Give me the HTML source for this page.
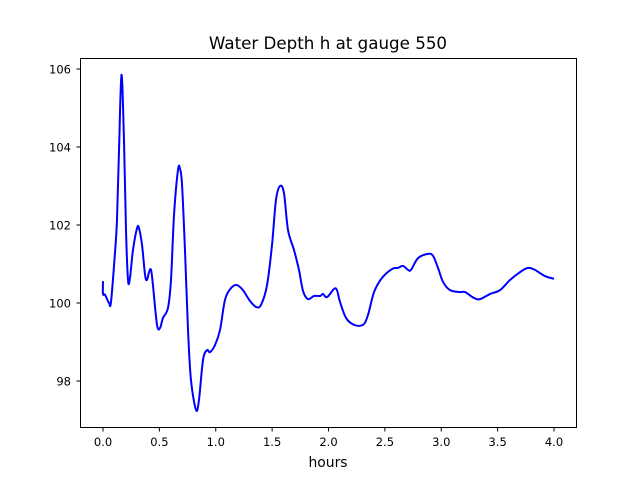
<!DOCTYPE html>
<html><head><meta charset="utf-8"><style>
body{margin:0;background:#fff}
svg text{font-family:"DejaVu Sans","Liberation Sans",sans-serif;fill:#000}
</style></head><body>
<svg id="chart" width="640" height="480">
<rect width="640" height="480" fill="#fff"/>
<text x="328" y="49" font-size="16.7" text-anchor="middle">Water Depth h at gauge 550</text>
<g id="axes"></g>
<path id="line" fill="none" stroke="#0000ff" stroke-width="2" stroke-linejoin="round"/>
<rect x="80.5" y="58.5" width="496" height="369" fill="none" stroke="#000" stroke-width="1"/>
<text x="328" y="467" font-size="13.9" text-anchor="middle">hours</text>
</svg>
<script>
const hours=[0,0,0.018,0.053,0.071,0.106,0.124,0.142,0.164,0.186,0.204,0.222,0.239,0.266,0.302,0.319,0.346,0.373,0.390,0.408,0.426,0.443,0.479,0.506,0.532,0.576,0.603,0.630,0.665,0.683,0.701,0.727,0.754,0.780,0.825,0.851,0.887,0.922,0.949,0.993,1.038,1.082,1.135,1.188,1.241,1.304,1.357,1.401,1.455,1.499,1.534,1.570,1.605,1.641,1.694,1.738,1.774,1.818,1.871,1.925,1.951,1.987,2.049,2.075,2.102,2.155,2.226,2.306,2.350,2.404,2.474,2.563,2.616,2.661,2.705,2.732,2.794,2.882,2.927,2.971,3.016,3.078,3.166,3.211,3.290,3.344,3.432,3.521,3.610,3.698,3.769,3.831,3.920,4.0];
const depth=[100.56,100.23,100.21,100.0,100.03,101.28,102.13,103.92,105.85,104.18,101.87,100.59,100.64,101.36,101.92,101.92,101.49,100.72,100.59,100.79,100.85,100.46,99.44,99.36,99.62,99.87,100.59,102.26,103.41,103.44,103.03,101.36,99.31,98.03,97.26,97.51,98.54,98.79,98.74,98.92,99.31,100.08,100.38,100.46,100.33,100.05,99.90,99.95,100.46,101.49,102.64,103.0,102.82,101.87,101.36,100.85,100.31,100.10,100.18,100.18,100.23,100.15,100.36,100.33,100.03,99.62,99.44,99.44,99.69,100.28,100.64,100.87,100.90,100.95,100.85,100.85,101.15,101.26,101.21,100.90,100.54,100.33,100.28,100.28,100.13,100.10,100.23,100.33,100.59,100.79,100.90,100.85,100.69,100.62];
const xTicks=[0,0.5,1,1.5,2,2.5,3,3.5,4];
const xTickLabels=["0.0","0.5","1.0","1.5","2.0","2.5","3.0","3.5","4.0"];
const yTicks=[98,100,102,104,106];
const yTickLabels=["98","100","102","104","106"];
const X=t=>103+t*112.75;
const Y=h=>69+(106-h)*39;
const NS="http://www.w3.org/2000/svg";
const axes=document.getElementById('axes');
function mk(tag,attrs){const e=document.createElementNS(NS,tag);for(const k in attrs)e.setAttribute(k,attrs[k]);return e;}
xTicks.forEach((t,i)=>{
  const l=mk('line',{x1:X(t),x2:X(t),y1:427.5,y2:431.5,stroke:'#000'});
  
  
  axes.appendChild(l);
  const tx=mk('text',{x:X(t),y:446,'font-size':11.5,'text-anchor':'middle'});
  
  
  tx.textContent=xTickLabels[i];axes.appendChild(tx);
});
yTicks.forEach((h,i)=>{
  const l=mk('line',{x1:76.5,x2:80.5,y1:Y(h),y2:Y(h),stroke:'#000'});
  
  
  axes.appendChild(l);
  const tx=mk('text',{x:71,y:Y(h)+4.5,'font-size':11.5,'text-anchor':'end'});
  
  
  tx.textContent=yTickLabels[i];axes.appendChild(tx);
});
const p=hours.map((t,i)=>[X(t),Y(depth[i])]);
let d='M'+p[0][0]+','+p[0][1];
for(let i=0;i<p.length-1;i++){
  const p0=p[Math.max(0,i-1)],p1=p[i],p2=p[i+1],p3=p[Math.min(p.length-1,i+2)];
  const c1=[p1[0]+(p2[0]-p0[0])/6,p1[1]+(p2[1]-p0[1])/6];
  const c2=[p2[0]-(p3[0]-p1[0])/6,p2[1]-(p3[1]-p1[1])/6];
  d+=` C${c1[0]},${c1[1]} ${c2[0]},${c2[1]} ${p2[0]},${p2[1]}`;
}
document.getElementById('line').setAttribute('d',d);
</script>
</body></html>
